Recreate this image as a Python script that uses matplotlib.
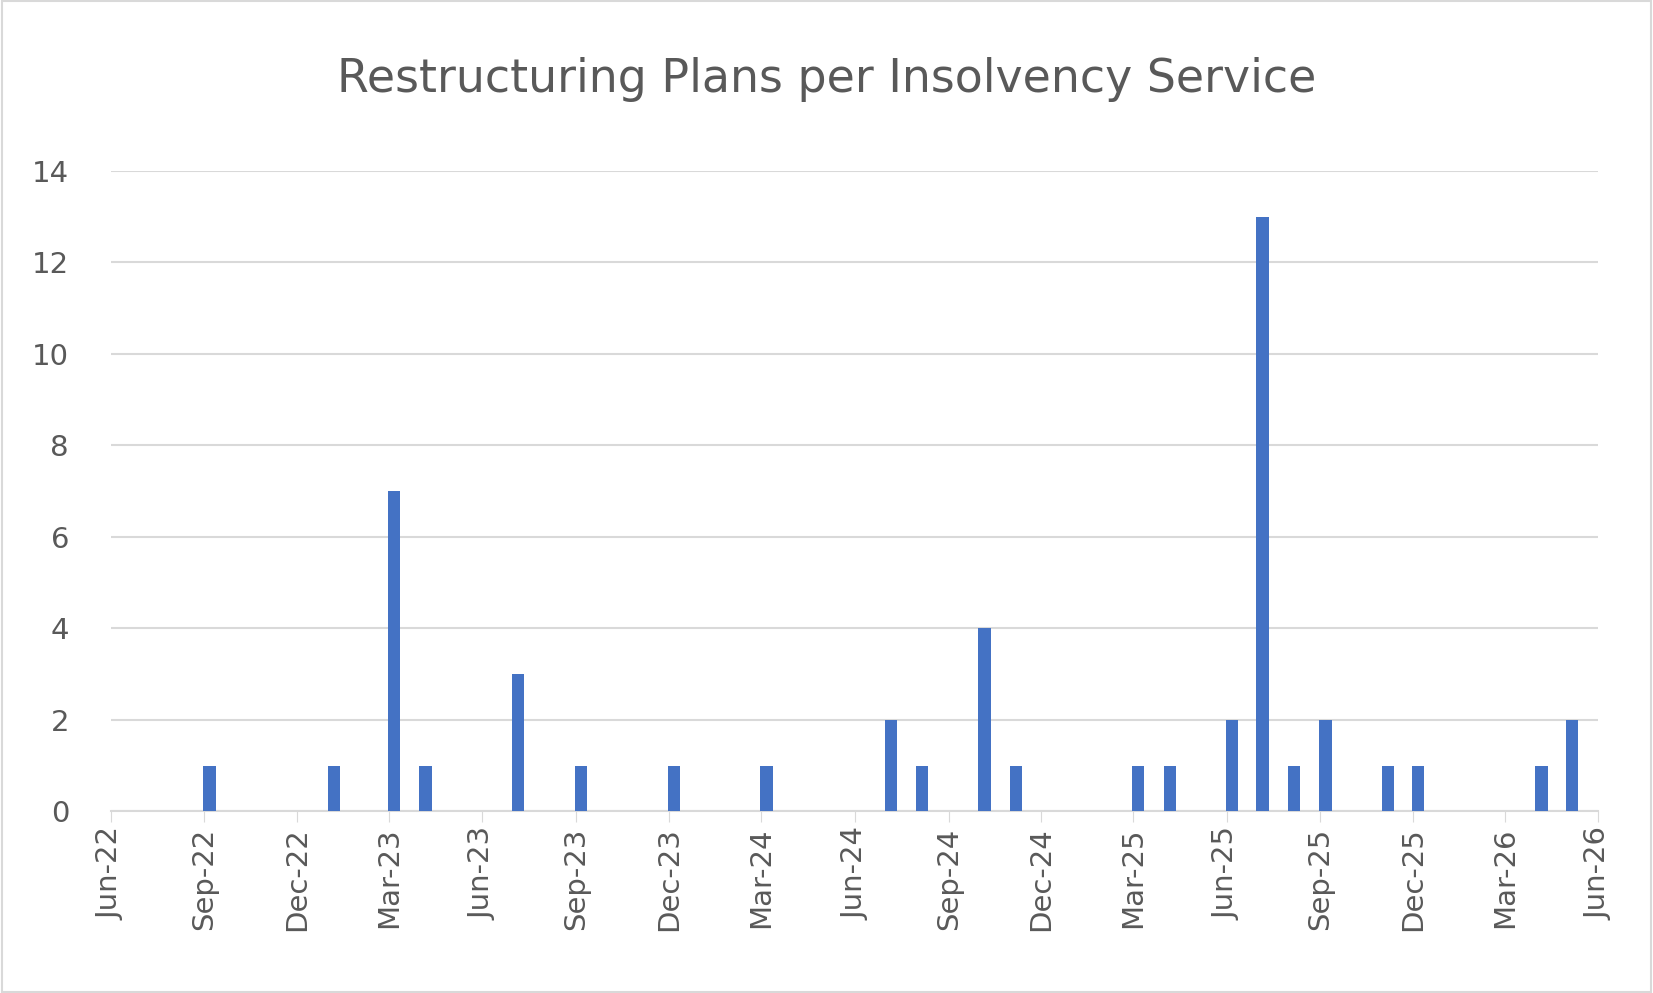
import matplotlib.pyplot as plt
import matplotlib.dates as mdates
import numpy as np

months = ['2022-09', '2023-01', '2023-03', '2023-04', '2023-07', '2023-09', '2023-12',
          '2024-03', '2024-07', '2024-08', '2024-10', '2024-11', '2025-03', '2025-04',
          '2025-06', '2025-07', '2025-08', '2025-09', '2025-11', '2025-12', '2026-04', '2026-05']
counts = [1, 1, 7, 1, 3, 1, 1, 1, 2, 1, 4, 1, 1, 1, 2, 13, 1, 2, 1, 1, 1, 2]

dates = np.array([np.datetime64(m + '-06') for m in months]).astype('datetime64[D]').astype(object)
ticks = np.arange(np.datetime64('2022-06'), np.datetime64('2026-07'), 3).astype('datetime64[D]').astype(object)

grey = '#595959'
fig = plt.figure(figsize=(16.53, 9.93), dpi=100)
ax = fig.add_axes([0.067, 0.183, 0.9, 0.645])
ax.bar(dates, counts, width=12, color='#4472C4', zorder=3)
ax.set_xlim(ticks[0], ticks[-1])
ax.set_ylim(0, 14)
ax.set_yticks(range(0, 15, 2))
ax.set_xticks(ticks)
ax.xaxis.set_major_formatter(mdates.DateFormatter('%b-%y'))
ax.tick_params(axis='x', rotation=90, labelsize=21, colors=grey, length=8, color='#d9d9d9')
ax.tick_params(axis='y', labelsize=21, colors=grey, length=0, pad=30)
ax.grid(axis='y', color='#d9d9d9', linewidth=1.5, zorder=0)
for s in ['top', 'right', 'left']:
    ax.spines[s].set_visible(False)
ax.spines['bottom'].set_color('#d9d9d9')
ax.spines['bottom'].set_linewidth(1.5)
fig.text(0.5, 0.92, 'Restructuring Plans per Insolvency Service', ha='center', va='center',
         fontsize=33, color=grey)
fig.patches.append(plt.Rectangle((0.001, 0.001), 0.998, 0.998, transform=fig.transFigure,
                                 fill=False, edgecolor='#d9d9d9', linewidth=1.5))
fig.savefig('out.png')
